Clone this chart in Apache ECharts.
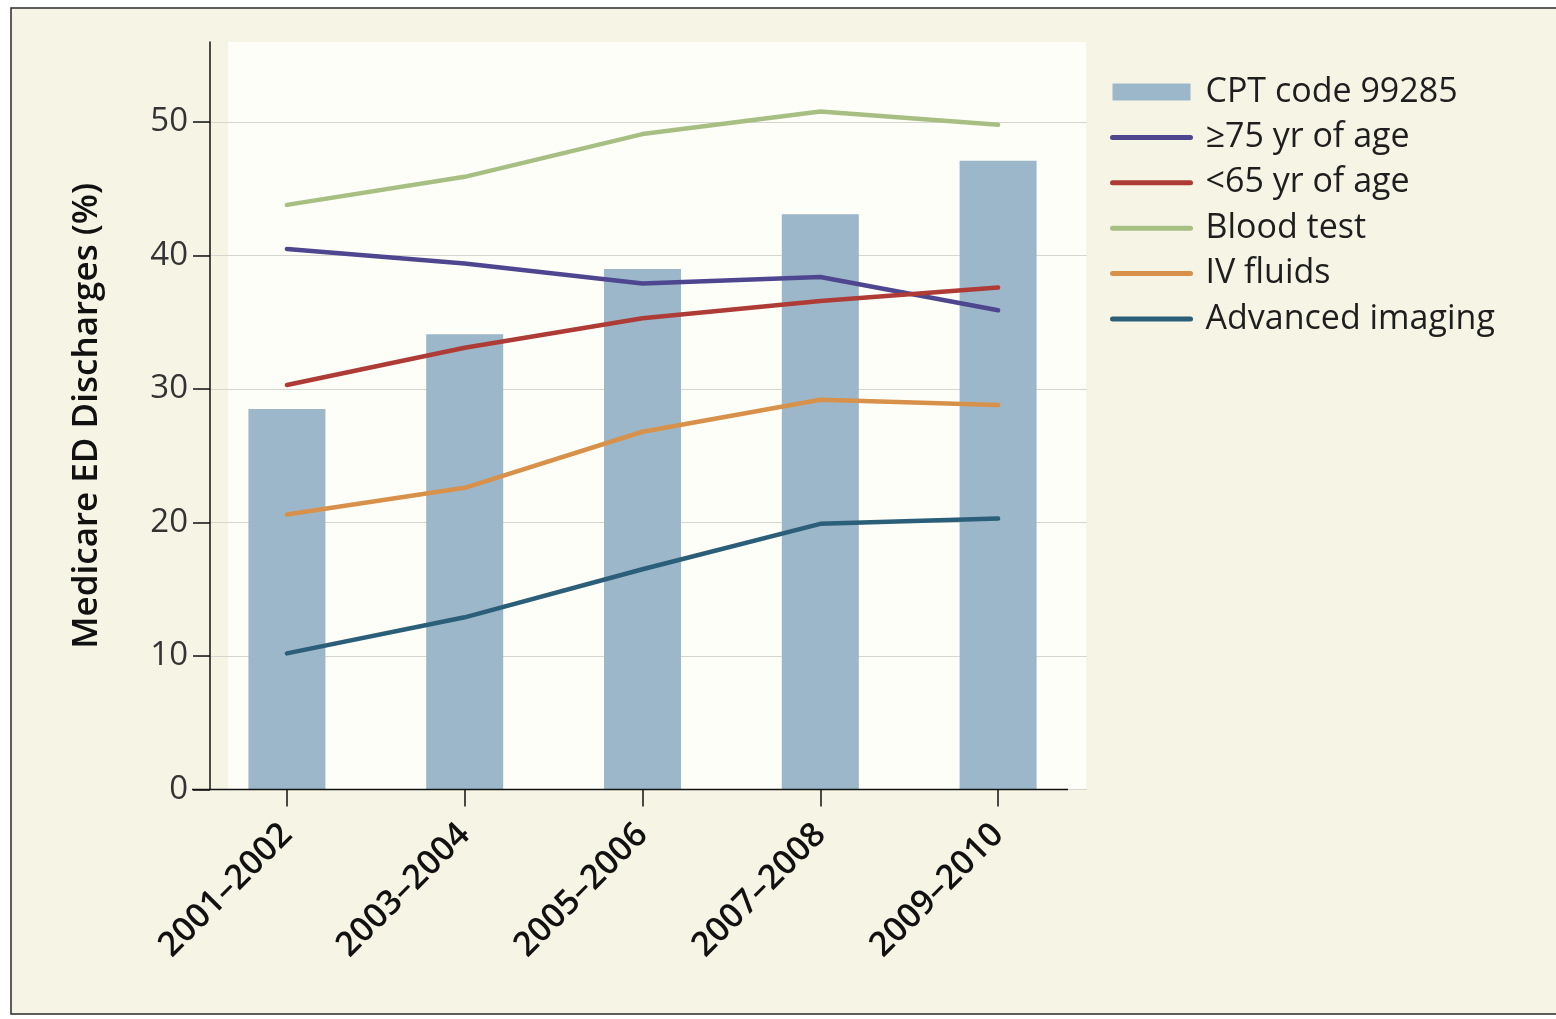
<!DOCTYPE html>
<html>
<head>
<meta charset="utf-8">
<script src="https://cdn.jsdelivr.net/npm/echarts@6/dist/echarts.min.js"></script>
<style>
html,body{margin:0;padding:0;background:#fff;}
#chart{width:1556px;height:1019px;}
</style>
</head>
<body>
<div id="chart"></div>
<script>
var categories = ['2001–2002', '2003–2004', '2005–2006', '2007–2008', '2009–2010'];
var cptCode99285 = [28.5, 34.1, 39.0, 43.1, 47.1];
var age75plus = [40.5, 39.4, 37.9, 38.4, 35.9];
var ageUnder65 = [30.3, 33.1, 35.3, 36.6, 37.6];
var bloodTest = [43.8, 45.9, 49.1, 50.8, 49.8];
var ivFluids = [20.6, 22.6, 26.8, 29.2, 28.8];
var advancedImaging = [10.2, 12.9, 16.5, 19.9, 20.3];
var yTicks = [0, 10, 20, 30, 40, 50];
var seriesNames = ['CPT code 99285', '≥75 yr of age', '<65 yr of age', 'Blood test', 'IV fluids', 'Advanced imaging'];

var FONT = '"Open Sans", "Noto Sans", sans-serif';
var chart = echarts.init(document.getElementById('chart'), null, {renderer: 'canvas'});

function lineSeries(name, data, color) {
  return {
    name: name, type: 'line', data: data,
    symbol: 'none', showSymbol: false,
    lineStyle: {color: color, width: 4.5, cap: 'round', join: 'round'},
    itemStyle: {color: color},
    z: 3
  };
}
function lineLegend(name) {
  return {name: name, itemStyle: {opacity: 0}};
}

var option = {
  backgroundColor: '#ffffff',
  animation: false,
  textStyle: {fontFamily: FONT},
  graphic: [
    {type: 'rect', z: -10, shape: {x: 11, y: 8, width: 1560, height: 1006},
     style: {fill: '#f6f5e5', stroke: '#2a2a2a', lineWidth: 1.5}},
    {type: 'rect', z: -9, shape: {x: 228, y: 42, width: 858, height: 748},
     style: {fill: '#fefef8'}},
    {type: 'line', z: 50, shape: {x1: 192, y1: 789.5, x2: 1068, y2: 789.5},
     style: {stroke: '#111', lineWidth: 1.5}}
  ],
  grid: {left: 198, right: 469, top: 42, bottom: 229.5, containLabel: false},
  legend: {
    orient: 'vertical', left: 1110, top: 75, padding: 0,
    itemWidth: 78, itemHeight: 17, itemGap: 11.4,
    data: [
      {name: seriesNames[0], icon: 'rect'},
      lineLegend(seriesNames[1]), lineLegend(seriesNames[2]), lineLegend(seriesNames[3]),
      lineLegend(seriesNames[4]), lineLegend(seriesNames[5])
    ],
    lineStyle: {width: 5},
    textStyle: {fontFamily: FONT, fontSize: 34, color: '#1e1e1e', lineHeight: 34, padding: [0, 0, 0, 10]}
  },
  xAxis: {
    type: 'category', data: categories, boundaryGap: true,
    axisLine: {show: false},
    axisTick: {show: true, alignWithLabel: true, length: 17, lineStyle: {color: '#111', width: 1.5}},
    axisLabel: {rotate: 45, margin: 40, fontFamily: FONT, fontSize: 34, fontWeight: 600, color: '#111'},
    splitLine: {show: false}
  },
  yAxis: {
    type: 'value', min: 0, max: 56, interval: 10, offset: -12,
    name: 'Medicare ED Discharges (%)', nameLocation: 'middle', nameRotate: 90, nameGap: 105,
    nameTextStyle: {fontFamily: FONT, fontSize: 35, fontWeight: 600, color: '#111'},
    axisLine: {show: true, lineStyle: {color: '#111', width: 1.5}},
    axisTick: {show: true, length: 17, customValues: yTicks, lineStyle: {color: '#111', width: 1.5}},
    axisLabel: {margin: 22, fontFamily: FONT, fontSize: 33, color: '#333', customValues: yTicks},
    splitLine: {show: true, lineStyle: {color: ['#d6d6cf', '#d6d6cf', '#d6d6cf', '#d6d6cf', '#d6d6cf', '#d6d6cf', 'rgba(0,0,0,0)'], width: 1.2}}
  },
  series: [
    {name: seriesNames[0], type: 'bar', data: cptCode99285, barWidth: 77,
     itemStyle: {color: '#9bb7c9'}, z: 2},
    lineSeries(seriesNames[1], age75plus, '#4f4690'),
    lineSeries(seriesNames[2], ageUnder65, '#ae3b36'),
    lineSeries(seriesNames[3], bloodTest, '#a8bf83'),
    lineSeries(seriesNames[4], ivFluids, '#d8914a'),
    lineSeries(seriesNames[5], advancedImaging, '#2b5e78')
  ]
};
chart.setOption(option);
</script>
</body>
</html>
